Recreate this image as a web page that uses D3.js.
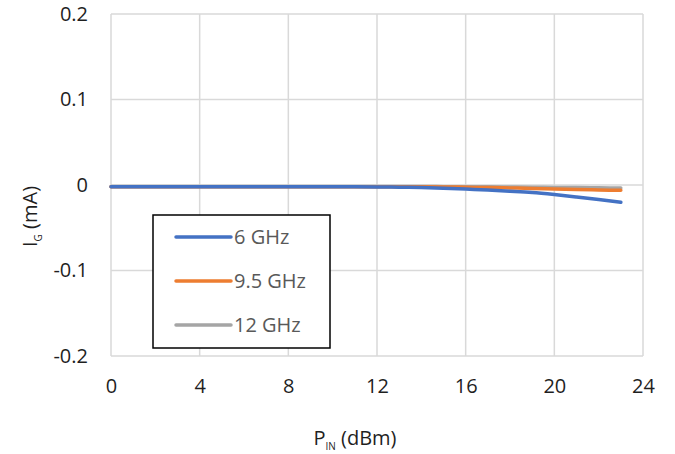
<!DOCTYPE html>
<html>
<head>
<meta charset="utf-8">
<script src="https://cdn.jsdelivr.net/npm/d3@7"></script>
<style>
  html, body { margin: 0; padding: 0; background: #fff; }
  svg text { font-family: "Open Sans", "Liberation Sans", sans-serif; }
</style>
</head>
<body>
<svg id="chart" width="675" height="454"></svg>
<script>
// Input power sweep (dBm)
const pin = [0, 1, 2, 3, 4, 5, 6, 7, 8, 9, 10, 11, 12, 13, 14, 15, 16, 17, 18, 19, 20, 21, 22, 23];

// Gate current (mA) per frequency
const ig6 = [-0.002, -0.002, -0.002, -0.002, -0.002, -0.002, -0.002, -0.002, -0.002, -0.002, -0.002, -0.002,
             -0.0022, -0.0026, -0.003, -0.0038, -0.0048, -0.0058, -0.0072, -0.0088, -0.0112, -0.014, -0.017, -0.0202];
const ig95 = [-0.002, -0.002, -0.002, -0.002, -0.002, -0.002, -0.002, -0.002, -0.002, -0.002, -0.002, -0.002,
              -0.002, -0.002, -0.002, -0.0022, -0.0026, -0.003, -0.0035, -0.004, -0.0048, -0.0054, -0.0058, -0.0062];
const ig12 = [-0.0018, -0.0018, -0.0018, -0.0018, -0.0018, -0.0018, -0.0018, -0.0018, -0.0018, -0.0018, -0.0018, -0.0018,
              -0.0018, -0.0018, -0.0018, -0.0019, -0.002, -0.0021, -0.0023, -0.0025, -0.0028, -0.003, -0.0033, -0.0036];

const seriesNames = ["6 GHz", "9.5 GHz", "12 GHz"];
const seriesColors = ["#4472C4", "#ED7D31", "#A5A5A5"];

const xTicks = [0, 4, 8, 12, 16, 20, 24];
const yTicks = [-0.2, -0.1, 0, 0.1, 0.2];
const yTickLabels = ["-0.2", "-0.1", "0", "0.1", "0.2"];

const svg = d3.select("#chart");
const plot = { left: 111, right: 643, top: 14, bottom: 356 };

const x = d3.scaleLinear().domain([0, 24]).range([plot.left, plot.right]);
const y = d3.scaleLinear().domain([-0.2, 0.2]).range([plot.bottom, plot.top]);

const gridColor = "#d9d9d9";
const axisText = "#1f1f1f";
const legendText = "#595959";

// Grid lines
svg.append("g").selectAll("line.v").data(xTicks).join("line")
  .attr("x1", d => x(d)).attr("x2", d => x(d))
  .attr("y1", plot.top).attr("y2", plot.bottom)
  .attr("stroke", gridColor).attr("stroke-width", 1.5);
svg.append("g").selectAll("line.h").data(yTicks).join("line")
  .attr("x1", plot.left).attr("x2", plot.right)
  .attr("y1", d => y(d)).attr("y2", d => y(d))
  .attr("stroke", gridColor).attr("stroke-width", 1.5);

// Axis tick labels
const xAxis = svg.append("g")
  .attr("transform", `translate(0,${plot.bottom})`)
  .call(d3.axisBottom(x).tickValues(xTicks).tickSize(0).tickPadding(23).tickFormat(d3.format("d")));
xAxis.select(".domain").remove();
xAxis.selectAll("text").attr("font-size", 20).attr("fill", axisText)
  .style("font-family", "'Open Sans', sans-serif");

const yAxis = svg.append("g")
  .attr("transform", `translate(${plot.left},0)`)
  .call(d3.axisLeft(y).tickValues(yTicks).tickSize(0).tickPadding(23)
    .tickFormat((d, i) => yTickLabels[i]));
yAxis.select(".domain").remove();
yAxis.selectAll("text").attr("font-size", 20).attr("fill", axisText)
  .style("font-family", "'Open Sans', sans-serif");

// Curves
const allSeries = [ig6, ig95, ig12];
const line = d3.line().x((d, i) => x(pin[i])).y(d => y(d)).curve(d3.curveMonotoneX);
[2, 1, 0].forEach(k => {
  svg.append("path")
    .datum(allSeries[k])
    .attr("d", line)
    .attr("fill", "none")
    .attr("stroke", seriesColors[k])
    .attr("stroke-width", 3.5)
    .attr("stroke-linecap", "round");
});

// Axis titles
const xt = svg.append("text")
  .attr("x", 355).attr("y", 445)
  .attr("text-anchor", "middle")
  .attr("font-size", 20).attr("fill", axisText);
xt.append("tspan").text("P");
xt.append("tspan").attr("font-size", 10).attr("dy", 5).text("IN");
xt.append("tspan").attr("dy", -5).text(" (dBm)");

const yt = svg.append("text")
  .attr("transform", "translate(37,247) rotate(-90)")
  .attr("text-anchor", "start")
  .attr("font-size", 20).attr("fill", axisText);
yt.append("tspan").text("I");
yt.append("tspan").attr("font-size", 10).attr("dy", 5).text("G");
yt.append("tspan").attr("dy", -5).text(" (mA)");

// Legend
const legend = svg.append("g");
legend.append("rect")
  .attr("x", 153).attr("y", 215).attr("width", 177).attr("height", 133)
  .attr("fill", "#fff").attr("stroke", "#000").attr("stroke-width", 1.5);
const rows = legend.selectAll("g.row").data(seriesNames).join("g")
  .attr("transform", (d, i) => `translate(0,${237 + i * 44})`);
rows.append("line")
  .attr("x1", 176).attr("x2", 231).attr("y1", 0).attr("y2", 0)
  .attr("stroke", (d, i) => seriesColors[i]).attr("stroke-width", 3.5)
  .attr("stroke-linecap", "round");
rows.append("text")
  .attr("x", 234).attr("y", 0).attr("dy", "0.35em")
  .attr("font-size", 20).attr("fill", legendText)
  .text(d => d);
</script>
</body>
</html>
